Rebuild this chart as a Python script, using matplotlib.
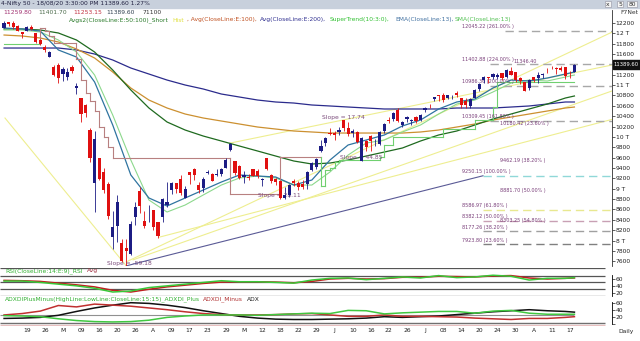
import numpy as np
import matplotlib.pyplot as plt
from matplotlib.patches import Rectangle

W, H = 640, 341

# Nifty 50 daily OHLC, 12 Feb 2020 .. 18 Aug 2020
opens = [12107, 12219, 12191, 12132, 12028, 12042, 12119, 12012, 11877, 11738,
         11537, 11355, 11388, 11218, 11164, 11358, 10942, 10742, 10609, 10139,
         9108, 9588, 9328, 9091, 8063, 8287, 7945, 7849, 7735, 8452,
         8949, 8385, 8584, 8584, 8356, 8446, 8688, 8973, 9103, 9196,
         8829, 9324, 9390, 9069, 9018, 9310, 9279, 9259, 9290, 9408,
         9753, 9533, 9429, 9226, 9234, 9376, 9348, 9162, 9584, 9271,
         9182, 9158, 8823, 8881, 9141, 9109, 9100, 9083, 9364, 9422,
         9726, 9880, 10082, 10072, 10094, 10326, 10181, 10072, 10094, 9544,
         9920, 10014, 9877, 9863, 10119, 10319, 10347, 10529, 10235, 10343,
         10311, 10382, 10323, 10526, 10614, 10723, 10802, 10818, 10755, 10764,
         10851, 10750, 10701, 10599, 10752, 10919, 11092, 11154, 11150, 11149,
         11226, 11155, 11276, 11248, 11140, 11057, 10946, 11155, 11129, 11187,
         11271, 11323, 11322, 11334, 11353, 11248, 11260]
highs = [12231, 12225, 12246, 12160, 12031, 12134, 12160, 12013, 11884, 11783,
         11663, 11385, 11434, 11342, 11329, 11385, 11036, 10752, 10632, 10179,
         10112, 9602, 9404, 9127, 8575, 8883, 8036, 8037, 8376, 8749,
         9039, 8576, 8679, 8588, 8357, 8820, 9131, 9128, 9113, 9262,
         9053, 9324, 9391, 9136, 9231, 9368, 9296, 9377, 9396, 9599,
         9889, 9533, 9451, 9346, 9277, 9382, 9379, 9206, 9584, 9282,
         9211, 9158, 9031, 9093, 9178, 9149, 9161, 9334, 9511, 9598,
         9931, 9996, 10177, 10112, 10182, 10328, 10291, 10148, 10112, 9996,
         9943, 10046, 9966, 10111, 10272, 10393, 10484, 10554, 10315, 10409,
         10338, 10401, 10447, 10572, 10632, 10766, 10813, 10847, 10818, 10805,
         10894, 10755, 10756, 10755, 10933, 11037, 11180, 11165, 11240, 11225,
         11226, 11310, 11341, 11250, 11150, 11058, 11113, 11156, 11257, 11231,
         11338, 11374, 11359, 11373, 11354, 11267, 11402]
lows = [12093, 12139, 12091, 12037, 11908, 12042, 12056, 11813, 11779, 11639,
        11536, 11175, 11036, 11082, 11108, 11238, 10827, 10295, 10379, 9508,
        8555, 9165, 8916, 8407, 7833, 7964, 7583, 7511, 7715, 8305,
        8522, 8244, 8356, 8199, 8056, 8360, 8653, 8904, 8913, 8874,
        8821, 9091, 9165, 8909, 8944, 9278, 9141, 9250, 9238, 9392,
        9737, 9266, 9190, 9116, 9175, 9238, 9211, 9044, 9367, 9117,
        9065, 8807, 8806, 8844, 9056, 8968, 8996, 9004, 9336, 9376,
        9706, 9824, 10040, 9945, 10036, 10120, 10022, 9997, 9885, 9544,
        9727, 9728, 9833, 9845, 10072, 10277, 10302, 10281, 10195, 10286,
        10224, 10267, 10299, 10487, 10562, 10695, 10689, 10676, 10731, 10724,
        10777, 10562, 10557, 10562, 10749, 10878, 11037, 11047, 11112, 11116,
        11101, 11138, 11191, 11067, 11026, 10882, 10909, 11064, 11046, 11142,
        11241, 11307, 11223, 11281, 11111, 11145, 11253]
closes = [12201, 12174, 12113, 12046, 11993, 12126, 12081, 11829, 11797, 11678,
          11633, 11202, 11132, 11303, 11251, 11270, 10989, 10451, 10458, 9590,
          9955, 9197, 8967, 8469, 8263, 8745, 7610, 7801, 8318, 8641,
          8660, 8281, 8598, 8254, 8084, 8792, 8748, 9112, 8994, 8925,
          8992, 9267, 9262, 8981, 9187, 9314, 9154, 9282, 9380, 9553,
          9860, 9294, 9206, 9271, 9200, 9252, 9240, 9197, 9384, 9143,
          9137, 8824, 8879, 9067, 9106, 9039, 9029, 9315, 9490, 9580,
          9826, 9980, 10061, 10029, 10142, 10167, 10047, 10116, 9902, 9972,
          9814, 9914, 9882, 10092, 10244, 10312, 10471, 10305, 10288, 10383,
          10312, 10302, 10430, 10552, 10607, 10764, 10799, 10705, 10813, 10768,
          10802, 10607, 10618, 10740, 10902, 11022, 11162, 11132, 11215, 11194,
          11131, 11300, 11202, 11102, 11073, 10892, 11095, 11101, 11200, 11214,
          11270, 11322, 11308, 11300, 11178, 11247, 11390]

tick_bars = list(range(5, 126, 4))
tick_labels = ['19', '26', 'M', '09', '16', '20', '26', 'A', '09', '17', '23',
               '29', 'M', '12', '18', '22', '29', 'J', '10', '16', '22', '26',
               'J', '08', '14', '20', '24', '30', 'A', '11', '17']

# indicator curves, one value every 4 bars (+ last bar)
samp = list(range(0, 125, 4)) + [126]
ema200 = [11716, 11716, 11716, 11716, 11678, 11600, 11485, 11330, 11214, 11098,
          11002, 10925, 10828, 10770, 10712, 10674, 10654, 10616, 10597, 10577,
          10558, 10539, 10539, 10539, 10539, 10558, 10558, 10558, 10577, 10597,
          10635, 10674, 10674]
ema100 = [11967, 11948, 11909, 11832, 11697, 11523, 11253, 10944, 10712, 10558,
          10442, 10365, 10307, 10249, 10191, 10152, 10114, 10095, 10075, 10075,
          10075, 10075, 10075, 10095, 10133, 10191, 10249, 10326, 10384, 10442,
          10500, 10558, 10577]
ema50 = [12083, 12083, 12064, 12006, 11871, 11639, 11292, 10906, 10558, 10288,
         10133, 10017, 9921, 9824, 9728, 9631, 9535, 9477, 9496, 9554,
         9631, 9708, 9786, 9921, 10037, 10114, 10230, 10346, 10442, 10539,
         10635, 10751, 10790]
ema13 = [12102, 12083, 12044, 11678, 11542, 11060, 10230, 9265, 8821, 8666,
         8821, 8975, 9129, 9265, 9245, 9226, 9071, 9168, 9554, 9844,
         9940, 10037, 10211, 10326, 10539, 10674, 10732, 10944, 11098, 11079,
         11137, 11214, 11253]
sma13 = [12064, 12064, 12025, 11871, 11639, 11195, 10423, 9554, 8782, 8550,
         8685, 8879, 9071, 9207, 9245, 9207, 9071, 9071, 9323, 9650,
         9882, 9940, 10095, 10230, 10442, 10635, 10712, 10867, 11040, 11098,
         11079, 11156, 11195]

# SuperTrend steps: first bar of each step, level, drawn pink (1) or green (0)
st_start = [0, 8, 9, 10, 11, 16, 17, 18, 19, 20, 21, 22, 23, 24, 50, 61,
            70, 71, 72, 73, 74, 83, 84, 86, 97, 104, 108, 109]
st_level = [11800, 12110, 12050, 11950, 11810, 11500, 11100, 10850, 10700, 10500,
            10200, 10000, 9800, 9600, 8890, 9620, 9050, 9360, 9400, 9515,
            9560, 9612, 9844, 9998, 10150, 10330, 10577, 11060]
st_pink = [0, 1, 1, 1, 1, 1, 1, 1, 1, 1, 1, 1, 1, 1, 1, 1,
           0, 0, 0, 0, 0, 0, 0, 0, 0, 0, 0, 0]

rsi = [54, 54, 50, 45, 40, 33, 22, 25, 35, 40, 45, 50, 55, 52, 52, 50, 48,
       57, 62, 63, 58, 62, 66, 63, 70, 64, 66, 71, 68, 57, 62, 62, 64]
rsi_avg = [56, 55, 53, 48, 43, 37, 27, 22, 30, 37, 42, 47, 51, 52, 52, 51, 49,
           53, 60, 62, 60, 61, 65, 65, 68, 67, 66, 69, 70, 63, 60, 62, 63]
adx = [15, 16, 18, 24, 35, 45, 53, 60, 58, 53, 46, 37, 29, 21, 16, 13, 12,
       12, 13, 14, 16, 20, 18, 20, 22, 26, 30, 34, 37, 40, 37, 35, 33]
di_minus = [25, 29, 36, 52, 48, 56, 53, 50, 45, 40, 34, 29, 26, 25, 25, 26, 28,
            29, 25, 21, 21, 25, 21, 21, 20, 19, 16, 14, 12, 15, 15, 18, 20]
di_plus = [23, 22, 20, 14, 9, 6, 5, 6, 10, 18, 22, 25, 25, 25, 24, 26, 28,
           30, 29, 38, 37, 28, 31, 33, 35, 35, 30, 36, 38, 30, 27, 27, 27]

# fibonacci levels with dashed lines
fib_levels = [12045.22, 11402.88, 10986.36, 10309.45, 9250.15, 8586.97,
              8382.12, 8177.26, 7923.80]
fib_tags = ['261.00%', '224.00%', '200.00%', '161.80%', '100.00%', '61.80%',
            '50.00%', '38.20%', '23.60%']
# projection levels (label only)
proj_levels = [10180.42, 9462.19, 8881.70, 8303.25]
proj_tags = ['23.60%', '38.20%', '50.00%', '54.80%']

# trend lines (bar, price) -> (bar, price)
trend_yellow = [((0.2, 10365), (27, 7511)),
                ((28.5, 7627), (134.3, 10887)),
                ((27, 7588), (134.3, 12023)),
                ((49.9, 9880), (134.3, 11388)),
                ((34.4, 8067), (134.3, 10338))]
trend_slate = ((27, 7511), (105.8, 9250))


def box(x0, y0, x1, y1):
    return [x0 / W, 1 - y1 / H, (x1 - x0) / W, (y1 - y0) / H]


def fx(px):
    return px / W


def fy(py):
    return 1 - py / H


FS = 4.3
FIB_FS = 3.5
X0, X1 = -0.9, 134.3
fig = plt.figure(figsize=(W / 100, H / 100), dpi=100)
fig.patch.set_facecolor('white')

# ---------- price panel ----------
ax = fig.add_axes(box(0, 10, 612, 266))
ax.set_xlim(X0, X1)
ax.set_ylim(7508, 12450)
for s in ['top', 'left', 'bottom']:
    ax.spines[s].set_visible(False)
ax.spines['right'].set_color('#303030')
ax.spines['right'].set_linewidth(0.6)
ax.set_xticks([])
ax.yaxis.tick_right()
yt = list(range(7600, 12201, 200))
ylab = []
for v in yt:
    if v == 11400:
        ylab.append('')
    elif v % 1000 == 0:
        ylab.append(f'{v // 1000} T')
    else:
        ylab.append(str(v))
ax.set_yticks(yt, ylab)
ax.tick_params(axis='y', length=2, width=0.5, pad=0.6, labelsize=FS,
               colors='#202020')

for (a, b) in trend_yellow:
    ax.plot([a[0], b[0]], [a[1], b[1]], color='#eeee90', lw=0.8, zorder=1)
ax.plot([trend_slate[0][0], trend_slate[1][0]],
        [trend_slate[0][1], trend_slate[1][1]], color='#5a5a96', lw=0.8, zorder=1)

fib_cols = ['#a8a8a8', '#a8a8a8', '#a8a8a8', '#a8a8a8', '#90d8d8', '#e8e890',
            '#c8a0b4', '#a0a0a0', '#808080']
fib_from = [110.7, 107.3, 107.3, 107.3, 105.8, 105.8, 105.8, 105.8, 105.8]
for lev, tag, c, x0 in zip(fib_levels, fib_tags, fib_cols, fib_from):
    ax.hlines(lev, x0, X1, colors=c, lw=1.0, linestyles=(0, (6, 3.5)), zorder=1)
    ax.text(101.1, lev + 35, f'{lev:.2f} ({tag} )', fontsize=FIB_FS,
            color='#7a3f7a', va='bottom', ha='left')
for lev, tag in zip(proj_levels, proj_tags):
    ax.text(109.5, lev + 35, f'{lev:.2f} ({tag} )', fontsize=FIB_FS,
            color='#7a3f7a', va='bottom', ha='left')
ax.text(112.6, 11410, '11346.40', fontsize=FIB_FS, color='#7a3f7a', va='bottom')

ax.plot(samp, ema200, color='#2b2b8c', lw=0.9, zorder=2)
ax.plot(samp, ema100, color='#cc9030', lw=0.9, zorder=2)
ax.plot(samp, ema50, color='#1f6a1f', lw=0.9, zorder=2)
ax.plot(samp, sma13, color='#8cd88c', lw=0.8, zorder=2)
ax.plot(samp, ema13, color='#2f74a0', lw=0.9, zorder=2)

n = len(closes)
st_end = st_start[1:] + [n - 1]
for k in range(len(st_start)):
    c = '#b88080' if st_pink[k] else '#70d070'
    ax.plot([st_start[k], st_end[k]], [st_level[k], st_level[k]], color=c,
            lw=0.8, zorder=2)
    if k + 1 < len(st_start):
        c2 = '#b88080' if st_pink[k + 1] else '#70d070'
        ax.plot([st_end[k], st_end[k]], [st_level[k], st_level[k + 1]],
                color=c2, lw=0.8, zorder=2)

for i in range(n):
    up = closes[i] >= opens[i]
    col = '#1c1c84' if up else '#e01010'
    ax.vlines(i, lows[i], highs[i], color=col, lw=0.6, zorder=3)
    lo, hi = min(opens[i], closes[i]), max(opens[i], closes[i])
    ax.bar(i, max(hi - lo, 12), bottom=lo, width=0.7, color=col, zorder=4,
           linewidth=0)

slope_col = '#7a4a7a'
ax.text(70.2, 10384, 'Slope = 17.74', fontsize=FS, color=slope_col, va='center')
ax.text(74.2, 9612, 'Slope = 44.85', fontsize=FS, color=slope_col, va='center')
ax.text(56.1, 8860, 'Slope = 28.11', fontsize=FS, color=slope_col, va='center')
ax.text(22.7, 7560, 'Slope = -59.18', fontsize=FS, color=slope_col, va='center')

# ---------- RSI panel ----------
ar = fig.add_axes(box(0, 267.5, 612, 296))
ar.set_xlim(X0, X1)
ar.set_ylim(10.4, 93.6)
for s in ['top', 'left', 'bottom']:
    ar.spines[s].set_visible(False)
ar.spines['right'].set_bounds(10.4, 72)
ar.spines['right'].set_linewidth(0.6)
ar.set_xticks([])
ar.yaxis.tick_right()
ar.set_yticks([20, 40, 60])
ar.tick_params(axis='y', length=2, width=0.5, pad=0.6, labelsize=FS,
               colors='#202020')
ar.hlines([93, 70, 50, 30, 11.2], X0, 132.7, colors='#555555', lw=0.9)
ar.plot(samp, rsi_avg, color='#c02020', lw=1.1)
ar.plot(samp, rsi, color='#38c838', lw=1.1)

# ---------- ADX panel ----------
ad = fig.add_axes(box(0, 297, 612, 326))
ad.set_xlim(X0, X1)
ad.set_ylim(-6.6, 76.3)
for s in ['top', 'left', 'bottom']:
    ad.spines[s].set_visible(False)
ad.spines['right'].set_bounds(0, 62)
ad.spines['right'].set_linewidth(0.6)
ad.yaxis.tick_right()
ad.set_yticks([0, 20, 40, 60], ['', '20', '40', '60'])
ad.tick_params(axis='y', length=2, width=0.5, pad=0.6, labelsize=FS,
               colors='#202020')
ad.set_xticks(tick_bars, tick_labels)
ad.tick_params(axis='x', length=0, pad=1.6, labelsize=FS, colors='#202020')
ad.hlines(25, X0, 126, colors='#909090', lw=0.8)
ad.hlines(1.3, X0, 132.7, colors='#707070', lw=1.0)
ad.hlines(-3.5, X0, 132.7, colors='#e8c0c0', lw=0.9)
ad.plot(samp, adx, color='#111111', lw=1.1)
ad.plot(samp, di_minus, color='#c03030', lw=1.1)
ad.plot(samp, di_plus, color='#40c840', lw=1.1)

# ---------- header / labels ----------
fig.patches.append(Rectangle((0, fy(8)), 1, 8 / H, transform=fig.transFigure,
                             color='#c8d0dc', zorder=0))
fig.text(fx(1), fy(4), '4-Nifty 50 - 18/08/20 3:30:00 PM 11389.60 1.27%',
         fontsize=FS, color='#202040', va='center')
for x, s in [(608, 'x'), (620, '5'), (632, '80')]:
    fig.text(fx(x), fy(4), s, fontsize=FS, color='#303030', va='center',
             ha='center', bbox=dict(boxstyle='square,pad=0.15', fc='#f4f4f4',
                                    ec='#9090a0', lw=0.4))
for x, s, c in [(3, '11259.80', '#a03070'), (38, '11401.70', '#4a6a4a'),
                (73, '11253.15', '#c03040'), (106, '11389.60', '#304050'),
                (143, '71100', '#303030')]:
    fig.text(fx(x), fy(12.5), s, fontsize=FS, color=c, va='center')
for x, s, c in [(69, 'Avgs2(CloseLine:E:50:100)_Short', '#2a7a2a'),
                (172, 'Hist', '#e0e040'),
                (187, ', Avg(CloseLine:E:100),', '#c05020'),
                (260, 'Avg(CloseLine:E:200),', '#303090'),
                (330, 'SuperTrend(10:3:0),', '#30c030'),
                (395, 'EMA(CloseLine:13),', '#4070a0'),
                (455, 'SMA(CloseLine:13)', '#50c050')]:
    fig.text(fx(x), fy(20), s, fontsize=FS, color=c, va='center')
fig.text(fx(629), fy(12.5), 'F7Net', fontsize=FS, color='#303030', va='center',
         ha='center')
fig.patches.append(Rectangle((fx(612.5), fy(69)), 27.5 / W, 9 / H,
                             transform=fig.transFigure, color='#101010', zorder=5))
fig.text(fx(626.2), fy(64.5), '11389.60', fontsize=3.8, color='white',
         va='center', ha='center', zorder=6)
fig.text(fx(5), fy(270.7), 'RSI(CloseLine:14:E:9)_RSI', fontsize=FS,
         color='#30b030', va='center')
fig.text(fx(87), fy(270.7), 'Avg', fontsize=FS, color='#a03040', va='center')
fig.text(fx(5), fy(299.5), 'ADXDIPlusMinus(HighLine:LowLine:CloseLine:15:15)_ADXDI_Plus',
         fontsize=FS, color='#30b030', va='center')
fig.text(fx(203), fy(299.5), 'ADXDI_Minus', fontsize=FS, color='#b03030',
         va='center')
fig.text(fx(247), fy(299.5), 'ADX', fontsize=FS, color='#202020', va='center')
fig.text(fx(626), fy(331), 'Daily', fontsize=FS, color='#202020', va='center',
         ha='center')

fig.savefig('out.png', dpi=100)
